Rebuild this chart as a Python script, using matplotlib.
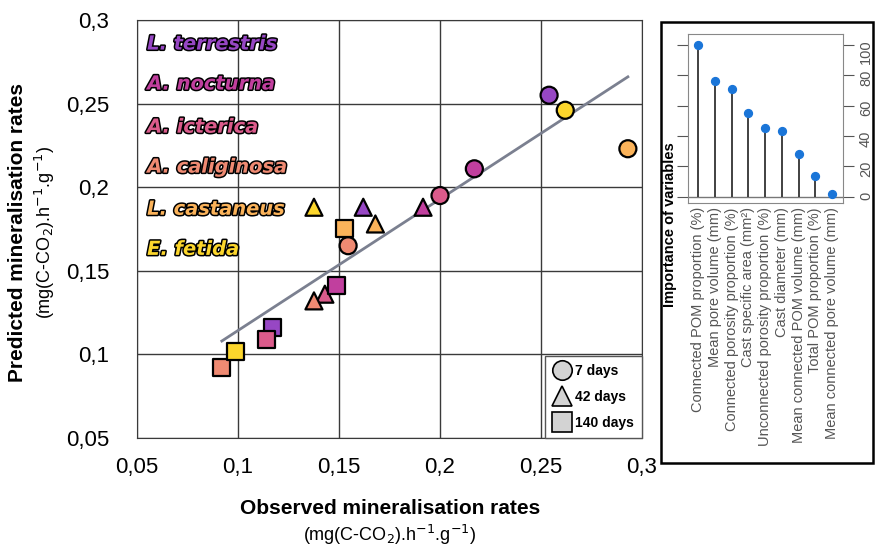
import numpy as np
import matplotlib
matplotlib.use("Agg")
import matplotlib.pyplot as plt
import matplotlib.patheffects as pe
from matplotlib.lines import Line2D
from matplotlib.patches import Rectangle
from matplotlib.ticker import FuncFormatter

plt.rcParams['font.family'] = ['Liberation Sans', 'DejaVu Sans']

# species order: terrestris, nocturna, icterica, caliginosa, castaneus, fetida
species = ["L. terrestris", "A. nocturna", "A. icterica",
           "A. caliginosa", "L. castaneus", "E. fetida"]
colors = ["#9747c4", "#c13f9e", "#db5b8b", "#ef8a72", "#fbb35a", "#fcd62c"]

obs_7 = [0.254, 0.217, 0.200, 0.1545, 0.293, 0.262]
pred_7 = [0.255, 0.211, 0.195, 0.165, 0.223, 0.246]
obs_42 = [0.162, 0.1916, 0.143, 0.1376, 0.168, 0.1376]
pred_42 = [0.188, 0.188, 0.136, 0.132, 0.178, 0.188]
obs_140 = [0.117, 0.149, 0.1139, 0.092, 0.1525, 0.099]
pred_140 = [0.116, 0.141, 0.109, 0.092, 0.1754, 0.1017]

fit_x = [0.092, 0.293]
fit_y = [0.108, 0.266]

variables = ["Connected POM proportion (%)", "Mean pore volume (mm)",
             "Connected porosity proportion (%)", "Cast specific area (mm²)",
             "Unconnected porosity proportion (%)", "Cast diameter (mm)",
             "Mean connected POM volume (mm)", "Total POM proportion (%)",
             "Mean connected pore volume (mm)"]
importance = [100, 76, 71, 55, 45, 43.5, 28.4, 13.8, 2.2]

fig = plt.figure(figsize=(8.76, 5.49), dpi=100)
ax = fig.add_axes([0.1564, 0.2022, 0.5765, 0.7614])

ax.plot(fit_x, fit_y, color="#7b8090", lw=2, zorder=2)
for xs, ys, m in [(obs_7, pred_7, 'o'), (obs_42, pred_42, '^'), (obs_140, pred_140, 's')]:
    ax.scatter(xs, ys, s=150, marker=m, c=colors, edgecolors='black',
               linewidths=1.6, zorder=3)

ax.set_xlim(0.05, 0.3)
ax.set_ylim(0.05, 0.3)
ticks = [0.05, 0.1, 0.15, 0.2, 0.25, 0.3]
ax.set_xticks(ticks)
ax.set_yticks(ticks)
fmt = FuncFormatter(lambda v, p: ("%g" % round(v, 2)).replace('.', ','))
ax.xaxis.set_major_formatter(fmt)
ax.yaxis.set_major_formatter(fmt)
ax.tick_params(length=0, labelsize=16)
ax.tick_params(axis='x', pad=14)
ax.tick_params(axis='y', pad=20)
ax.grid(True, color='#3a3a3a', lw=1)
ax.set_axisbelow(True)
for s in ax.spines.values():
    s.set_color('#3a3a3a')

# species labels
label_y = [0.2856, 0.2617, 0.2359, 0.212, 0.1868, 0.1628]
for name, c, yy in zip(species, colors, label_y):
    t = ax.text(0.055, yy, name, color=c, fontsize=14, fontweight='bold',
                fontstyle='italic', family=['DejaVu Sans'], va='center', zorder=4)
    t.set_path_effects([pe.withStroke(linewidth=2.2, foreground='black')])

handles = [Line2D([], [], ls='none', marker=m, markersize=14, markerfacecolor='#d3d3d3',
                  markeredgecolor='black', markeredgewidth=1.2)
           for m in ['o', '^', 's']]
leg = ax.legend(handles, ["7 days", "42 days", "140 days"], loc='lower right',
                prop={'weight': 'bold', 'size': 10}, frameon=True, fancybox=False,
                framealpha=1, edgecolor='#555555', borderaxespad=0,
                handletextpad=0.25, labelspacing=0.85, handlelength=1.3, borderpad=0.6)
leg.get_frame().set_linewidth(1)

fig.text(390 / 876, 1 - 508 / 549, "Observed mineralisation rates", fontsize=15,
         fontweight='bold', ha='center', va='center')
fig.text(390 / 876, 1 - 535 / 549, "(mg(C-CO$_2$).h$^{-1}$.g$^{-1}$)", fontsize=13,
         ha='center', va='center')
fig.text(18 / 876, 1 - 232 / 549, "Predicted mineralisation rates", fontsize=15,
         fontweight='bold', ha='center', va='center', rotation=90)
fig.text(45 / 876, 1 - 232 / 549, "(mg(C-CO$_2$).h$^{-1}$.g$^{-1}$)", fontsize=13,
         ha='center', va='center', rotation=90)

# inset panel
fig.patches.append(Rectangle((661 / 876, 1 - 463 / 549), (873 - 661) / 876, (463 - 22) / 549,
                             transform=fig.transFigure, fill=False, ec='black', lw=1.8))
ax2 = fig.add_axes([688 / 876, 1 - 203 / 549, (843 - 688) / 876, (203 - 34) / 549])
pos = np.arange(len(variables))
ax2.axhline(0, color='#777777', lw=1, zorder=1)
ax2.vlines(pos, 0, importance, color='#333333', lw=1.3, zorder=2)
ax2.scatter(pos, importance, s=32, color='#1a75d8', zorder=3)
ax2.set_xlim(-0.6, 8.65)
ax2.set_ylim(-4, 107)
ax2.set_xticks(pos)
ax2.set_xticklabels(variables, rotation=90, fontsize=10.5, color='#555555')
ax2.set_yticks([0, 20, 40, 60, 80, 100])
ax2.tick_params(axis='x', length=0, pad=3)
ax2.tick_params(axis='y', left=True, right=True, labelleft=False, labelright=True,
                direction='out', length=8, color='#555555', labelsize=10.5,
                labelcolor='#555555', labelrotation=90)
for s in ax2.spines.values():
    s.set_color('#888888')
fig.text(670 / 876, 1 - 225 / 549, "Importance of variables", fontsize=10.5,
         fontweight='bold', rotation=90, ha='center', va='center')

fig.savefig("out.png", dpi=100)
